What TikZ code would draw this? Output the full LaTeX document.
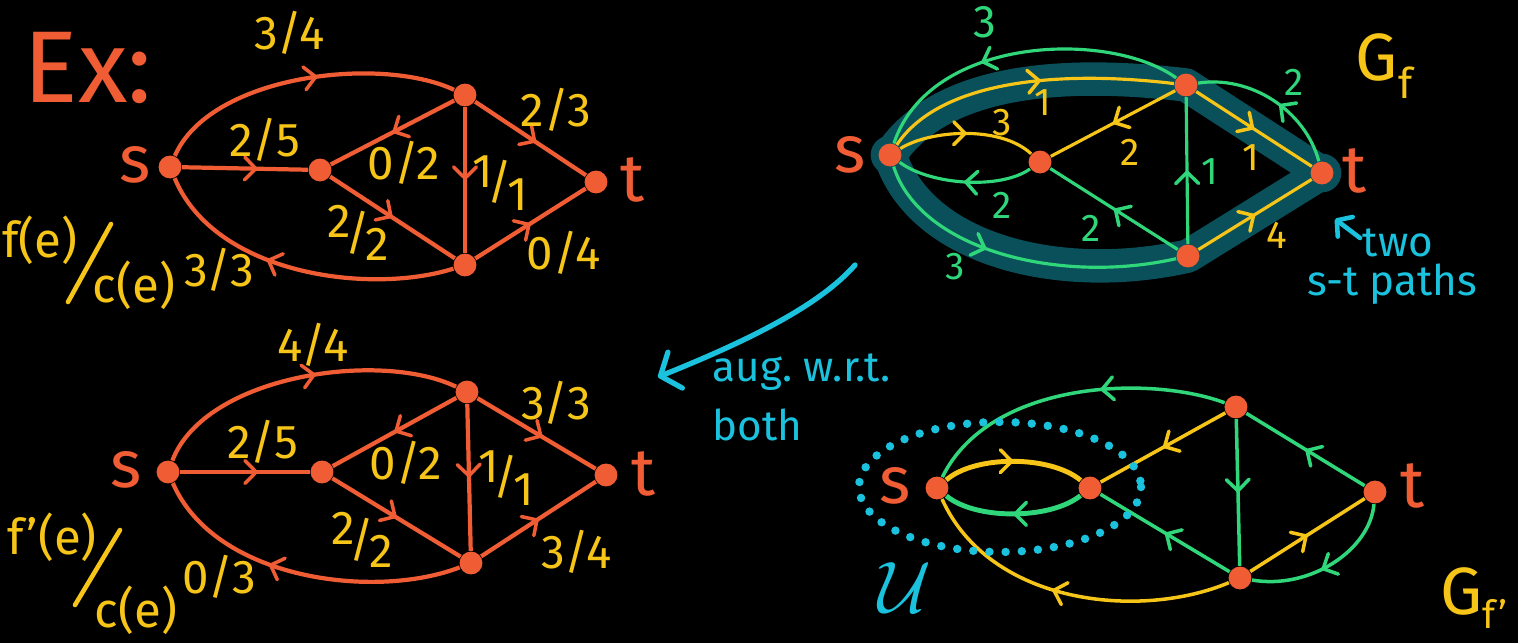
\documentclass[tikz,border=0pt]{standalone}
\usepackage{fontspec}
\setmainfont{Fira Sans}
\usetikzlibrary{arrows.meta,decorations.markings}
\definecolor{vtxorange}{RGB}{240,92,52}
\definecolor{flowyellow}{RGB}{246,197,24}
\definecolor{resgreen}{RGB}{48,214,122}
\definecolor{notecyan}{RGB}{26,194,222}
\definecolor{pathteal}{RGB}{10,80,90}
\pgfdeclarelayer{background}
\pgfsetlayers{background,main}
\newcommand{\handfrac}[2]{\raisebox{.45ex}{#1}\kern-1.5pt/\kern-1.5pt\raisebox{-.45ex}{#2}}
\tikzset{
  vtx/.style={circle,fill=vtxorange,inner sep=0pt,minimum size=6.5pt},
  stlbl/.style={text=vtxorange,font=\fontsize{19}{19}\selectfont,inner sep=0pt},
  flowlbl/.style={text=flowyellow,font=\fontsize{13.5}{13.5}\selectfont,inner sep=1pt},
  reslbl/.style={font=\fontsize{11}{11}\selectfont,inner sep=1pt},
  midarr/.style={postaction=decorate,decoration={markings,
    mark=at position #1 with {\arrow{Straight Barb[round,length=3.2pt,width=6.5pt,line width=1pt]}}}},
  midarr/.default=0.5,
  flowedge/.style={vtxorange,line width=1.2pt},
  gedge/.style={resgreen,line width=0.9pt},
  yedge/.style={flowyellow,line width=0.9pt},
  band/.style={pathteal,line width=9.5pt,line cap=round,line join=round},
  slashline/.style={flowyellow,line width=1.3pt,line cap=round},
  note/.style={text=notecyan,font=\fontsize{12}{12}\selectfont,inner sep=0pt},
}

\begin{document}
\begin{tikzpicture}[x=0.01cm,y=-0.01cm]
\begin{pgfonlayer}{background}
  \fill[black] (0,0) rectangle (1518,643);
\end{pgfonlayer}
\useasboundingbox (0,0) rectangle (1518,643);

% flow f
\node[text=vtxorange,font=\fontsize{29}{29}\selectfont] (ex) at (88,68) {Ex:};
\node[vtx] (s1) at (170,167) {};
\node[vtx] (a1) at (320,170) {};
\node[vtx] (b1) at (465,95) {};
\node[vtx] (c1) at (465,265) {};
\node[vtx] (t1) at (596,182) {};
\node[stlbl] (s1lbl) at (135,165) {s};
\node[stlbl] (t1lbl) at (633,180) {t};
\draw[flowedge,midarr=0.55] (s1) .. controls (210,75) and (380,55) .. (b1);
\draw[flowedge,midarr=0.6] (s1) -- (a1);
\draw[flowedge,midarr] (b1) -- (a1);
\draw[flowedge,midarr] (a1) -- (c1);
\draw[flowedge,midarr] (b1) -- (c1);
\draw[flowedge,midarr=0.55] (b1) -- (t1);
\draw[flowedge,midarr] (c1) -- (t1);
\draw[flowedge,midarr=0.6] (c1) .. controls (370,295) and (215,275) .. (s1);
\node[flowlbl] (f1sb) at (290,33) {3/4};
\node[flowlbl] (f1sa) at (265,140) {2/5};
\node[flowlbl] (f1ba) at (404,163) {0/2};
\node[flowlbl] (f1ac) at (358,233) {\handfrac{2}{2}};
\node[flowlbl] (f1bc) at (500,183) {\handfrac{1}{1}};
\node[flowlbl] (f1bt) at (556,110) {2/3};
\node[flowlbl] (f1ct) at (564,253) {0/4};
\node[flowlbl] (f1cs) at (219,270) {3/3};
\node[flowlbl,font=\fontsize{14}{14}\selectfont] (fe) at (40,240) {f(e)};
\node[flowlbl,font=\fontsize{14}{14}\selectfont] (ce) at (134,285) {c(e)};
\coordinate (fslashlo) at (68,302);
\coordinate (fslashhi) at (111,224);
\draw[slashline] (fslashlo) -- (fslashhi);

% flow f'
\node[vtx] (s2) at (168,472) {};
\node[vtx] (a2) at (322,472) {};
\node[vtx] (b2) at (467,392) {};
\node[vtx] (c2) at (471,563) {};
\node[vtx] (t2) at (606,475) {};
\node[stlbl] (s2lbl) at (126,470) {s};
\node[stlbl] (t2lbl) at (644,474) {t};
\draw[flowedge,midarr=0.55] (s2) .. controls (205,375) and (380,350) .. (b2);
\draw[flowedge,midarr=0.6] (s2) -- (a2);
\draw[flowedge,midarr] (b2) -- (a2);
\draw[flowedge,midarr] (a2) -- (c2);
\draw[flowedge,midarr] (b2) -- (c2);
\draw[flowedge,midarr=0.55] (b2) -- (t2);
\draw[flowedge,midarr] (c2) -- (t2);
\draw[flowedge,midarr=0.6] (c2) .. controls (375,600) and (215,580) .. (s2);
\node[flowlbl] (f2sb) at (313,345) {4/4};
\node[flowlbl] (f2sa) at (263,442) {2/5};
\node[flowlbl] (f2ba) at (406,463) {0/2};
\node[flowlbl] (f2ac) at (362,540) {\handfrac{2}{2}};
\node[flowlbl] (f2bc) at (506,478) {\handfrac{1}{1}};
\node[flowlbl] (f2bt) at (556,403) {3/3};
\node[flowlbl] (f2ct) at (577,552) {3/4};
\node[flowlbl] (f2cs) at (219,577) {0/3};
\node[flowlbl,font=\fontsize{14}{14}\selectfont] (fpe) at (52,537) {f'(e)};
\node[flowlbl,font=\fontsize{14}{14}\selectfont] (cpe) at (136,610) {c(e)};
\coordinate (fpslashlo) at (75,605);
\coordinate (fpslashhi) at (120,530);
\draw[slashline] (fpslashlo) -- (fpslashhi);

% residual G_f with the two s-t paths
\node[vtx] (s3) at (890,155) {};
\node[vtx] (a3) at (1040,162) {};
\node[vtx] (b3) at (1186,85) {};
\node[vtx] (c3) at (1188,256) {};
\node[vtx] (t3) at (1322,173) {};
\node[stlbl] (s3lbl) at (850,155) {s};
\node[stlbl] (t3lbl) at (1355,171) {t};
\begin{pgfonlayer}{background}
  \draw[band] (s3.center) .. controls (940,80) and (1060,70) .. (b3.center) -- (t3.center)
    -- (c3.center) .. controls (1060,285) and (920,250) .. (s3.center);
  \fill[pathteal] (s3.center) circle[radius=5.5pt];
  \fill[pathteal] (t3.center) circle[radius=5.5pt];
\end{pgfonlayer}
\draw[gedge,midarr=0.62] (b3) .. controls (1110,30) and (930,35) .. (s3);
\draw[yedge,midarr=0.55] (s3) .. controls (940,80) and (1060,70) .. (b3);
\draw[yedge,midarr] (s3) .. controls (930,130) and (1000,125) .. (a3);
\draw[gedge,midarr] (a3) .. controls (1000,190) and (930,185) .. (s3);
\draw[yedge,midarr] (b3) -- (a3);
\draw[gedge,midarr] (c3) -- (a3);
\draw[gedge,midarr] (c3) -- (b3);
\draw[yedge,midarr] (b3) -- (t3);
\draw[gedge,midarr=0.45] (t3) .. controls (1305,110) and (1250,75) .. (b3);
\draw[yedge,midarr] (c3) -- (t3);
\draw[gedge,midarr=0.4] (s3) .. controls (920,250) and (1060,285) .. (c3);
\node[reslbl,text=resgreen,font=\fontsize{13}{13}\selectfont] (r3bs) at (985,22) {3};
\node[reslbl,text=flowyellow] (r3sb) at (1043,103) {1};
\node[reslbl,text=flowyellow] (r3sa) at (1002,123) {3};
\node[reslbl,text=resgreen] (r3as) at (1002,205) {2};
\node[reslbl,text=flowyellow] (r3ba) at (1130,152) {2};
\node[reslbl,text=resgreen] (r3ca) at (1091,228) {2};
\node[reslbl,text=resgreen] (r3cb) at (1210,172) {1};
\node[reslbl,text=flowyellow] (r3bt) at (1251,158) {1};
\node[reslbl,text=resgreen] (r3tb) at (1294,82) {2};
\node[reslbl,text=flowyellow] (r3ct) at (1277,235) {4};
\node[reslbl,text=resgreen] (r3sc) at (955,267) {3};
\node[text=flowyellow,font=\fontsize{19}{19}\selectfont,inner sep=0pt] (gf) at (1384,66)
  {G\raisebox{-5pt}{\fontsize{12}{12}\selectfont f}};
\node[note] (two) at (1398,243) {two};
\node[note] (paths) at (1392,284) {s-t paths};
\coordinate (twotail) at (1360,238);
\coordinate (twotip) at (1335,219);
\draw[notecyan,line width=1.3pt,line cap=round,-{Straight Barb[round,length=3pt,width=7pt]}] (twotail) -- (twotip);

% augment
\coordinate (augtail) at (855,265);
\coordinate (aughead) at (658,377);
\draw[notecyan,line width=1.5pt,line cap=round,-{Straight Barb[round,length=4.5pt,width=11pt]}]
  (augtail) .. controls (820,305) and (750,340) .. (aughead);
\node[note,anchor=west] (aug) at (712,372) {aug.\ w.r.t.};
\node[note,anchor=west] (both) at (712,425) {both};

% residual G_f'
\node[vtx] (s4) at (937,488) {};
\node[vtx] (a4) at (1090,488) {};
\node[vtx] (b4) at (1236,407) {};
\node[vtx] (c4) at (1240,578) {};
\node[vtx] (t4) at (1375,492) {};
\node[stlbl] (s4lbl) at (895,486) {s};
\node[stlbl] (t4lbl) at (1413,486) {t};
\draw[gedge,line width=1pt,midarr=0.4] (b4) .. controls (1150,375) and (990,380) .. (s4);
\draw[yedge,line width=1.4pt,midarr] (s4) .. controls (975,455) and (1050,455) .. (a4);
\draw[gedge,line width=1.4pt,midarr] (a4) .. controls (1050,520) and (975,520) .. (s4);
\draw[yedge,line width=1pt,midarr] (b4) -- (a4);
\draw[gedge,line width=1pt,midarr] (c4) -- (a4);
\draw[gedge,line width=1pt,midarr] (b4) -- (c4);
\draw[gedge,line width=1pt,midarr] (t4) -- (b4);
\draw[yedge,line width=1pt,midarr] (c4) -- (t4);
\draw[gedge,line width=1pt,midarr=0.55] (t4) .. controls (1370,550) and (1310,590) .. (c4);
\draw[yedge,line width=1pt,midarr=0.55] (c4) .. controls (1140,620) and (990,605) .. (s4);
\draw[notecyan,line width=2.4pt,line cap=round,dash pattern=on 0pt off 4.6pt]
  (1000,487) ellipse [x radius=141,y radius=65];
\node[text=notecyan,font=\fontsize{21}{21}\selectfont,inner sep=0pt] (cutu) at (905,588) {$\mathcal{U}$};
\node[text=flowyellow,font=\fontsize{19}{19}\selectfont,inner sep=0pt] (gfp) at (1474,598)
  {G\raisebox{-4pt}{\fontsize{11}{11}\selectfont f'}};
\end{tikzpicture}
\end{document}
